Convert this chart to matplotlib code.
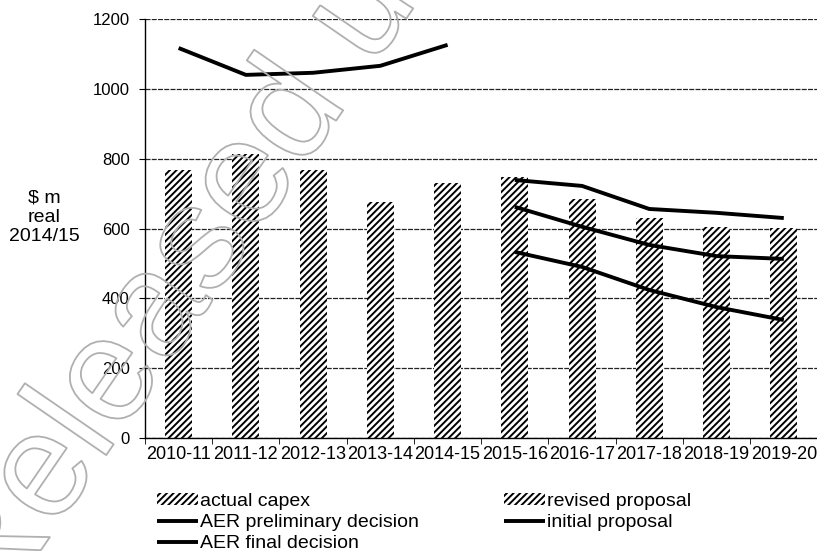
import matplotlib.pyplot as plt
import matplotlib.patheffects as pe
import numpy as np

plt.rcParams['font.family'] = ['Liberation Sans', 'DejaVu Sans']
plt.rcParams['hatch.linewidth'] = 1.4

years = ['2010-11', '2011-12', '2012-13', '2013-14', '2014-15',
         '2015-16', '2016-17', '2017-18', '2018-19', '2019-20']

actual_capex = [768, 814, 768, 676, 731]
revised_proposal = [748, 685, 630, 605, 602]

prior_period = [1117, 1040, 1046, 1066, 1126]
initial_proposal = [739, 722, 656, 645, 630]
aer_final = [662, 605, 553, 521, 513]
aer_preliminary = [533, 490, 424, 375, 338]

x = np.arange(len(years))
hist = x[:5]
fcst = x[5:]

fig = plt.figure(figsize=(8.17, 5.51), dpi=100)
ax = fig.add_axes([0.1775, 0.205, 0.823, 0.7605])

bar_kw = dict(width=0.4, color='white', edgecolor='black', linewidth=0,
              hatch='/////', zorder=2)
b1 = ax.bar(hist, actual_capex, label='actual capex', **bar_kw)
b2 = ax.bar(fcst, revised_proposal, label='revised proposal', **bar_kw)

line_kw = dict(color='black', lw=2.8, solid_capstyle='butt', zorder=3)
ax.plot(hist, prior_period, **line_kw)
l_init, = ax.plot(fcst, initial_proposal, label='initial proposal', **line_kw)
l_final, = ax.plot(fcst, aer_final, label='AER final decision', **line_kw)
l_pre, = ax.plot(fcst, aer_preliminary, label='AER preliminary decision', **line_kw)

ax.set_xlim(-0.5, 9.5)
ax.set_ylim(0, 1200)
ax.set_yticks(range(0, 1201, 200))
ax.set_xticks(x)
ax.set_xticklabels(years, fontsize=13)
ax.set_xticks(np.arange(-0.5, 9.6, 1), minor=True)
ax.tick_params(axis='x', which='major', length=0, pad=6)
ax.tick_params(axis='x', which='minor', length=4, direction='out', color='black')
ax.tick_params(axis='y', length=4, labelsize=12, pad=7)

ax.yaxis.grid(True, color='#222222', lw=0.9, linestyle=(0, (4, 1)), zorder=0)
ax.set_axisbelow(True)
for s in ['top', 'right']:
    ax.spines[s].set_visible(False)
ax.spines['left'].set_linewidth(1.0)
ax.spines['bottom'].set_linewidth(1.0)

fig.text(0.054, 0.606, '$ m\nreal\n2014/15', ha='center', va='center',
         fontsize=14, linespacing=1.16)

handles = [b1, l_pre, l_final, b2, l_init]
labels = ['actual capex', 'AER preliminary decision', 'AER final decision',
          'revised proposal', 'initial proposal']
fig.legend(handles, labels, loc='upper left', bbox_to_anchor=(0.192, 0.105),
           ncol=2, frameon=False, fontsize=14, handlelength=2.1,
           handleheight=0.55, handletextpad=0.1, columnspacing=4.4,
           labelspacing=0.2, borderpad=0, borderaxespad=0)

# faint outlined watermark running diagonally across the chart
fig.text(-0.0086, -0.125, 'Released under FOI', rotation=55.5,
         rotation_mode='anchor', ha='left', va='baseline', fontsize=107,
         color='none', zorder=10,
         path_effects=[pe.Stroke(linewidth=1.3, foreground='#b0b0b0')])

fig.savefig('out.png', dpi=100)
